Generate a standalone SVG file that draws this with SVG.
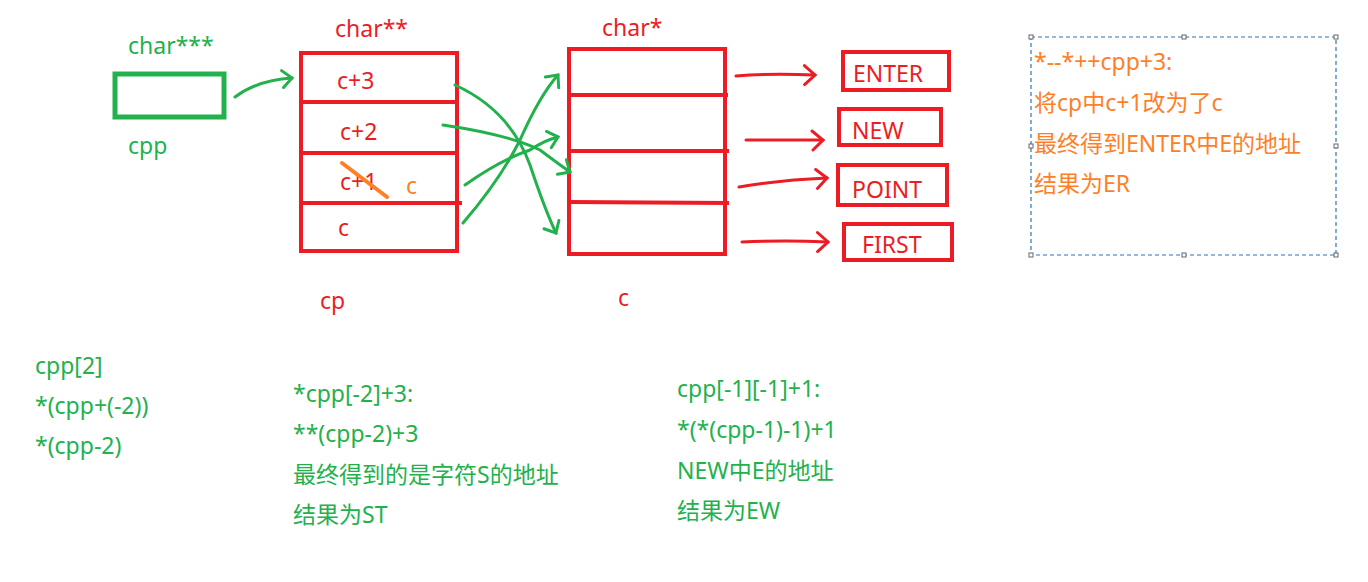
<svg xmlns="http://www.w3.org/2000/svg" width="1368" height="582" viewBox="0 0 1368 582">
<defs>
<style>
text{font-family:"Noto Sans","Noto Sans CJK SC",sans-serif;font-size:23px}
.r{fill:#ED1C24}.g{fill:#22B14C}.o{fill:#FF7F27}
.rb{fill:none;stroke:#ED1C24;stroke-width:4}
.gl{fill:none;stroke:#22B14C;stroke-width:3;stroke-linecap:round}
.rl{fill:none;stroke:#ED1C24;stroke-width:3;stroke-linecap:round}
.h{fill:#fff;stroke:#666;stroke-width:1}
</style>
<marker id="ga" markerUnits="userSpaceOnUse" markerWidth="30" markerHeight="30" viewBox="-15 -15 30 30" refX="0" refY="0" orient="auto"><path d="M-10,-8 L0,0 L-9,9" fill="none" stroke="#22B14C" stroke-width="3" stroke-linecap="round"/></marker>
<marker id="ra" markerUnits="userSpaceOnUse" markerWidth="30" markerHeight="30" viewBox="-15 -15 30 30" refX="0" refY="0" orient="auto"><path d="M-11,-9 L0,0 L-10,10" fill="none" stroke="#ED1C24" stroke-width="3" stroke-linecap="round"/></marker>
</defs>
<rect width="1368" height="582" fill="#fff"/>

<g id="cpp">
<text x="128" y="54" class="g">char***</text>
<rect x="115" y="74" width="109" height="43" fill="none" stroke="#22B14C" stroke-width="5"/>
<text x="128" y="154" class="g">cpp</text>
</g>

<g id="cp">
<text x="335" y="37" class="r">char**</text>
<rect x="301" y="53" width="156" height="198" class="rb"/>
<line x1="301" y1="102" x2="457" y2="102" class="rb"/>
<line x1="301" y1="153" x2="457" y2="153" class="rb"/>
<line x1="299" y1="203" x2="462" y2="203" class="rb"/>
<text x="337" y="89" class="r">c+3</text>
<text x="340" y="140" class="r">c+2</text>
<text x="340" y="190" class="r">c+1</text>
<text x="338" y="236" class="r">c</text>
<line x1="342" y1="163" x2="387" y2="197" stroke="#FF7F27" stroke-width="4" stroke-linecap="round"/>
<text x="406" y="194" class="o">c</text>
<text x="320" y="309" class="r">cp</text>
</g>

<g id="c">
<text x="602" y="36" class="r">char*</text>
<rect x="569" y="49" width="156" height="205" class="rb"/>
<line x1="569" y1="95" x2="728" y2="95" class="rb"/>
<line x1="569" y1="151" x2="729" y2="151" class="rb"/>
<line x1="569" y1="202" x2="729" y2="203" class="rb"/>
<text x="618" y="306" class="r">c</text>
</g>

<g id="enter"><rect x="843" y="52" width="106" height="38" class="rb"/><text x="853" y="82" class="r">ENTER</text></g>
<g id="new"><rect x="839" y="109" width="102" height="36" class="rb"/><text x="852" y="139" class="r">NEW</text></g>
<g id="point"><rect x="838" y="165" width="109" height="40" class="rb"/><text x="852" y="198" class="r">POINT</text></g>
<g id="first"><rect x="844" y="224" width="108" height="36" class="rb"/><text x="862" y="253" class="r">FIRST</text></g>

<g id="connectors">
<path d="M235,97 Q258,80 292,78" class="gl" marker-end="url(#ga)"/>
<path d="M455,85 Q510,110 530,165 Q545,210 556,233" class="gl" marker-end="url(#ga)"/>
<path d="M443,125 Q510,135 540,150 Q560,165 570,172" class="gl" marker-end="url(#ga)"/>
<path d="M465,185 Q500,160 530,150 Q545,140 558,137" class="gl" marker-end="url(#ga)"/>
<path d="M463,223 Q500,180 520,140 Q540,95 558,75" class="gl" marker-end="url(#ga)"/>
<path d="M736,76 Q770,73 815,75" class="rl" marker-end="url(#ra)"/>
<path d="M746,140 L823,140" class="rl" marker-end="url(#ra)"/>
<path d="M739,187 Q780,180 827,178" class="rl" marker-end="url(#ra)"/>
<path d="M742,242 Q785,240 828,242" class="rl" marker-end="url(#ra)"/>
</g>

<g id="note">
<rect x="1031" y="37" width="305" height="218" fill="none" stroke="#2E75B6" stroke-width="1.2" stroke-dasharray="4,3"/>
<rect x="1029" y="35" width="4" height="4" class="h"/><rect x="1182" y="35" width="4" height="4" class="h"/><rect x="1334" y="35" width="4" height="4" class="h"/>
<rect x="1029" y="144" width="4" height="4" class="h"/><rect x="1334" y="144" width="4" height="4" class="h"/>
<rect x="1029" y="253" width="4" height="4" class="h"/><rect x="1182" y="253" width="4" height="4" class="h"/><rect x="1334" y="253" width="4" height="4" class="h"/>
<text x="1034" y="70" class="o">*--*++cpp+3:</text>
<text x="1034" y="111" class="o">将cp中c+1改为了c</text>
<text x="1034" y="152" class="o">最终得到ENTER中E的地址</text>
<text x="1034" y="192" class="o">结果为ER</text>
</g>

<g id="text1">
<text x="35" y="374" class="g">cpp[2]</text>
<text x="35" y="414" class="g">*(cpp+(-2))</text>
<text x="35" y="454" class="g">*(cpp-2)</text>
</g>
<g id="text2">
<text x="293" y="402" class="g">*cpp[-2]+3:</text>
<text x="293" y="442" class="g">**(cpp-2)+3</text>
<text x="293" y="483" class="g">最终得到的是字符S的地址</text>
<text x="293" y="523" class="g">结果为ST</text>
</g>
<g id="text3">
<text x="677" y="397" class="g">cpp[-1][-1]+1:</text>
<text x="677" y="438" class="g">*(*(cpp-1)-1)+1</text>
<text x="677" y="479" class="g">NEW中E的地址</text>
<text x="677" y="519" class="g">结果为EW</text>
</g>
</svg>
